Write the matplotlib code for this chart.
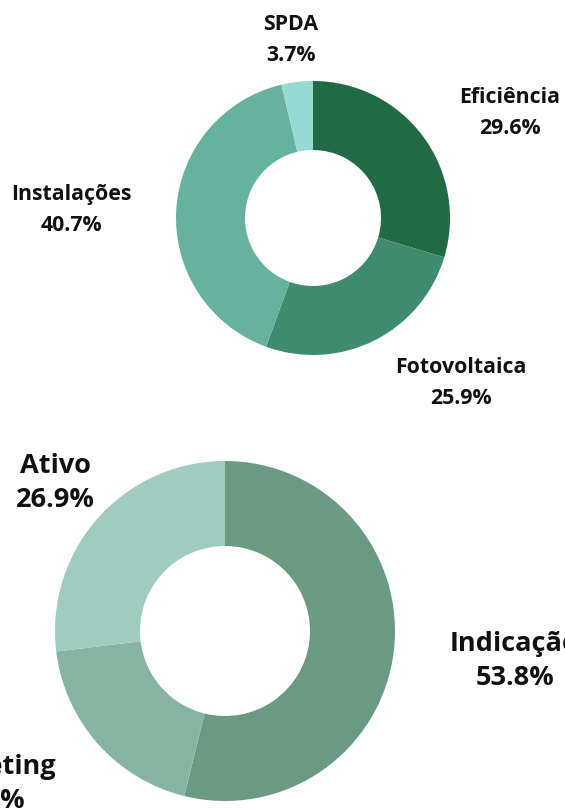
import matplotlib
matplotlib.use("Agg")
import matplotlib.pyplot as plt
from matplotlib import font_manager as fm

# explicit Open Sans Bold file (avoid the condensed variants)
bold_path = next((f.fname for f in fm.fontManager.ttflist
                  if f.fname.endswith("OpenSans-Bold.ttf")), None)


def font(size):
    if bold_path:
        return fm.FontProperties(fname=bold_path, size=size)
    return fm.FontProperties(family="DejaVu Sans", weight="bold", size=size)


# Top donut: service areas
top_labels = ["Eficiência", "Fotovoltaica", "Instalações", "SPDA"]
top_values = [29.6, 25.9, 40.7, 3.7]
top_colors = ["#216a43", "#3e8b6d", "#66b29e", "#96dad3"]

# Bottom donut: lead sources
bot_labels = ["Indicação", "Marketing", "Ativo"]
bot_values = [53.8, 19.2, 26.9]
bot_colors = ["#6a9a82", "#85b5a2", "#a0cbbf"]

W, H = 565, 808


def px(x, y):
    """pixel coords (top-left origin) -> data coords"""
    return x, H - y


fig = plt.figure(figsize=(W / 100, H / 100), dpi=100)
ax = fig.add_axes([0, 0, 1, 1])
ax.set_xlim(0, W)
ax.set_ylim(0, H)
ax.set_aspect("equal")
ax.axis("off")

ax.pie(top_values, colors=top_colors, startangle=90, counterclock=False,
       center=px(313, 218), radius=137,
       wedgeprops=dict(width=69, linewidth=0))
ax.pie(bot_values, colors=bot_colors, startangle=90, counterclock=False,
       center=px(225, 631), radius=170,
       wedgeprops=dict(width=85, linewidth=0))
ax.set_xlim(0, W)
ax.set_ylim(0, H)

top_pos = {"Eficiência": (510, 113), "Fotovoltaica": (461, 383),
           "Instalações": (71, 210), "SPDA": (291, 40)}
for lbl, v in zip(top_labels, top_values):
    x, y = px(*top_pos[lbl])
    ax.text(x, y, f"{lbl}\n{v:.1f}%", ha="center", va="center",
            fontproperties=font(15.3), linespacing=1.6, color="#111")

bot_pos = {"Indicação": (515, 661), "Marketing": (-14, 784), "Ativo": (55, 483)}
for lbl, v in zip(bot_labels, bot_values):
    x, y = px(*bot_pos[lbl])
    ax.text(x, y, f"{lbl}\n{v:.1f}%", ha="center", va="center",
            fontproperties=font(19.5), linespacing=1.36, color="#111",
            clip_on=False)

fig.savefig("out.png", dpi=100)
